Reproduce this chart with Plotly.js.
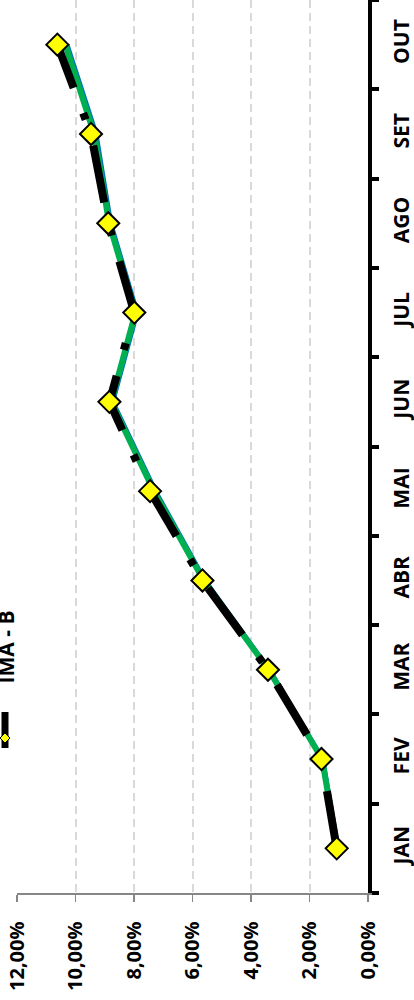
<!DOCTYPE html>
<html><head><meta charset="utf-8">
<script src="https://cdn.plot.ly/plotly-3.0.1.min.js"></script>
<style>html,body{margin:0;padding:0;background:#fff;overflow:hidden}#chart{width:414px;height:1000px}</style>
</head><body><div id="chart"></div>
<script>
const months = ['JAN','FEV','MAR','ABR','MAI','JUN','JUL','AGO','SET','OUT'];
const imaB = [1.07,1.59,3.42,5.66,7.45,8.84,7.99,8.88,9.47,10.62];
const greenSeries = [1.05,1.57,3.40,5.62,7.32,8.78,7.95,8.85,9.36,10.35];
const blueSeries = [1.03,1.55,3.38,5.58,7.27,8.73,7.90,8.80,9.30,10.29];
const valueTicks = [0,2,4,6,8,10,12];
const valueTickLabels = ['0,00%','2,00%','4,00%','6,00%','8,00%','10,00%','12,00%'];
const seriesName = 'IMA - B';

const L = 17, R = 368, T = 0, B = 893, W = 414, H = 1000;
const px = x => (x - L) / (R - L);
const py = y => (B - y) / (B - T);
const boldFont = {family:'"Open Sans", sans-serif', size:20, color:'#000', weight:'bold'};

const traces = [
  {x: blueSeries, y: months, type:'scatter', mode:'lines', line:{color:'#0070c0', width:5}, showlegend:false, hoverinfo:'skip'},
  {x: greenSeries, y: months, type:'scatter', mode:'lines', line:{color:'#00b050', width:6}, showlegend:false, hoverinfo:'skip'},
  {x: imaB, y: months, type:'scatter', mode:'lines+markers', name: seriesName,
   line:{color:'#000', width:8, dash:'58px,27px,7px,27px'},
   marker:{symbol:'diamond', size:17, color:'#ffff00', line:{color:'#000', width:2}}, showlegend:false}
];

const layout = {
  width: W, height: H,
  margin: {l: L, r: W - R, t: T, b: H - B, pad: 0},
  paper_bgcolor:'#fff', plot_bgcolor:'#fff',
  showlegend:false,
  xaxis: {
    range:[12,0], tickvals: valueTicks, ticktext: valueTickLabels, tickangle:-90,
    showgrid:true, gridcolor:'#d9d9d9', gridwidth:2, griddash:'8px,5px',
    zeroline:false, showline:true, linecolor:'#868686', linewidth:1.5,
    ticks:'outside', ticklen:7, tickwidth:1.5, tickcolor:'#868686',
    tickfont: boldFont, ticklabelstandoff: 12, fixedrange:true
  },
  yaxis: {
    type:'category', categoryorder:'array', categoryarray: months, range:[-0.5, 9.5],
    side:'right', showgrid:false, zeroline:false,
    showline:true, linecolor:'#000', linewidth:4,
    ticks:'outside', tickson:'boundaries', ticklen:7, tickwidth:4, tickcolor:'#000',
    tickangle:-90, tickfont: Object.assign({}, boldFont, {size:21}), ticklabelstandoff: 12, fixedrange:true
  },
  annotations: [
    {text: seriesName, textangle:-90, xref:'paper', yref:'paper', x: px(5.5), y: py(647),
     xanchor:'center', yanchor:'middle', showarrow:false, font: Object.assign({}, boldFont, {size:21})}
  ],
  shapes: [
    {type:'line', xref:'paper', yref:'paper', x0: px(5), x1: px(5), y0: py(712), y1: py(748), line:{color:'#000', width:7}},
    {type:'path', xref:'paper', yref:'paper',
     path: `M ${px(5)} ${py(733)} L ${px(10)} ${py(738)} L ${px(5)} ${py(743)} L ${px(0)} ${py(738)} Z`,
     fillcolor:'#ffff00', line:{color:'#000', width:1}}
  ]
};

Plotly.newPlot('chart', traces, layout, {staticPlot:true, displayModeBar:false});
</script></body></html>
